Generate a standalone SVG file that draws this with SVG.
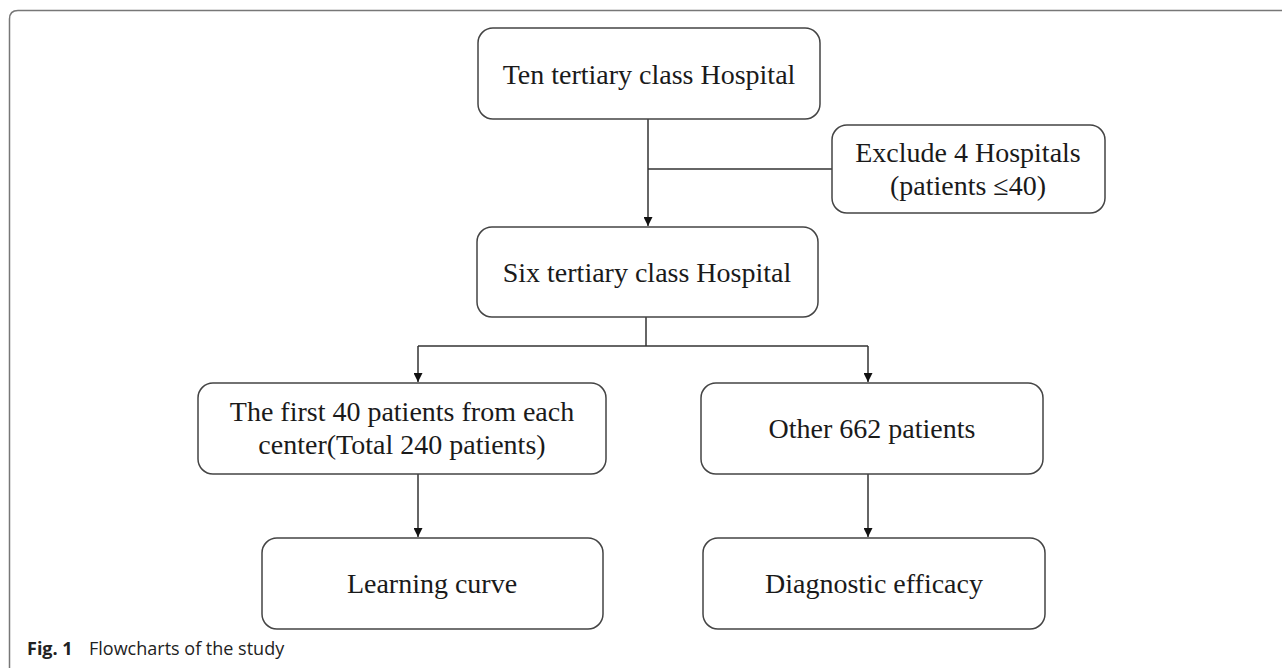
<svg xmlns="http://www.w3.org/2000/svg" width="1282" height="668" viewBox="0 0 1282 668">
<style>
.box{fill:#fff;stroke:#444;stroke-width:1.5}
.t{font-family:"Liberation Serif","Times New Roman",serif;font-size:28px;fill:#1a1a1a;text-anchor:middle}
.ln{fill:none;stroke:#333;stroke-width:1.5}
.cap{font-family:"Open Sans","Noto Sans",sans-serif;font-size:18px;fill:#222}
</style>
<defs>
<marker id="ah" viewBox="0 0 10 10" refX="10" refY="5" markerWidth="9" markerHeight="9" markerUnits="userSpaceOnUse" orient="auto">
<path d="M0,0 L10,5 L0,10 z" fill="#111"/>
</marker>
</defs>
<rect width="1282" height="668" fill="#fff"/>
<path d="M9.5 668 V19 Q9.5 10.5 18 10.5 H1282" fill="none" stroke="#777" stroke-width="1.5"/>
<g id="connectors">
<path class="ln" d="M648 119 V226" marker-end="url(#ah)"/>
<path class="ln" d="M648 169 H832"/>
<path class="ln" d="M646 317 V346"/>
<path class="ln" d="M418 346 H868"/>
<path class="ln" d="M418 346 V382" marker-end="url(#ah)"/>
<path class="ln" d="M868 346 V382" marker-end="url(#ah)"/>
<path class="ln" d="M418 474 V537" marker-end="url(#ah)"/>
<path class="ln" d="M868 474 V537" marker-end="url(#ah)"/>
</g>
<g id="ten">
<rect class="box" x="478" y="28" width="342" height="91" rx="15"/>
<text class="t" x="649" y="84">Ten tertiary class Hospital</text>
</g>
<g id="exclude">
<rect class="box" x="832" y="125" width="273" height="88" rx="15"/>
<text class="t" x="968" y="162">Exclude 4 Hospitals</text>
<text class="t" x="968" y="195">(patients ≤40)</text>
</g>
<g id="six">
<rect class="box" x="477" y="227" width="341" height="90" rx="15"/>
<text class="t" x="647" y="282">Six tertiary class Hospital</text>
</g>
<g id="first40">
<rect class="box" x="198" y="383" width="408" height="91" rx="15"/>
<text class="t" x="402" y="421">The first 40 patients from each</text>
<text class="t" x="402" y="454">center(Total 240 patients)</text>
</g>
<g id="other">
<rect class="box" x="701" y="383" width="342" height="91" rx="15"/>
<text class="t" x="872" y="438">Other 662 patients</text>
</g>
<g id="learning">
<rect class="box" x="262" y="538" width="341" height="91" rx="15"/>
<text class="t" x="432" y="593">Learning curve</text>
</g>
<g id="diagnostic">
<rect class="box" x="703" y="538" width="342" height="91" rx="15"/>
<text class="t" x="874" y="593">Diagnostic efficacy</text>
</g>
<text class="cap" x="27" y="655"><tspan font-weight="bold">Fig. 1</tspan><tspan x="89">Flowcharts of the study</tspan></text>
</svg>
